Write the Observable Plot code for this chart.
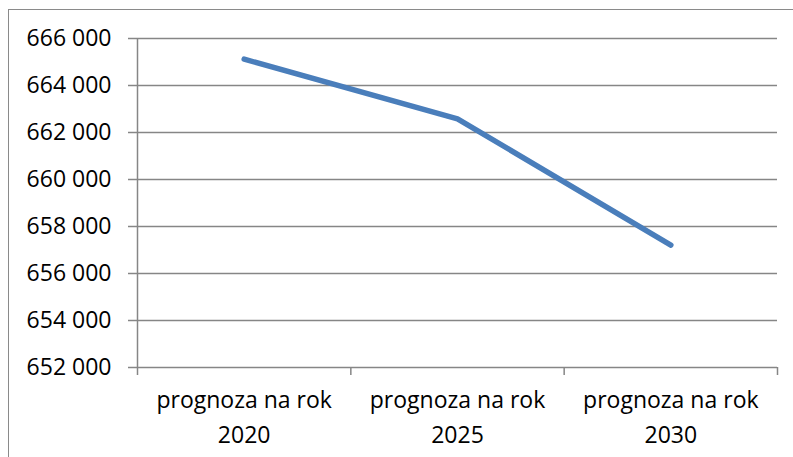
<!DOCTYPE html>
<html>
<head>
<meta charset="utf-8">
<script src="https://cdn.jsdelivr.net/npm/d3@7"></script>
<script src="https://cdn.jsdelivr.net/npm/@observablehq/plot@0.6"></script>
<style>
  html, body { margin: 0; padding: 0; background: #fff; overflow: hidden; width: 793px; height: 457px; }
  #wrap { position: relative; width: 793px; height: 457px; }
  #frame { position: absolute; left: 7.5px; top: 9px; width: 900px; height: 600px; border: 1.5px solid #8a8a8a; pointer-events: none; }
  #chart { position: absolute; left: 0; top: 0; }
</style>
</head>
<body>
<div id="wrap"><div id="chart"></div><div id="frame"></div></div>
<script>
const categories = ["prognoza na rok 2020", "prognoza na rok 2025", "prognoza na rok 2030"];
const values = [665120, 662580, 657210];
const yTicks = [652000, 654000, 656000, 658000, 660000, 662000, 664000, 666000];

const data = categories.map((c, i) => ({category: c, index: i + 0.5, value: values[i]}));
const fmt = v => d3.format(",")(v).replace(/,/g, " ");
const wrapLabel = c => c.replace(/ (\S+)$/, "\n$1");

const plot = Plot.plot({
  width: 793,
  height: 457,
  marginLeft: 137,
  marginRight: 16,
  marginTop: 38,
  marginBottom: 90,
  style: {fontFamily: "'Open Sans', sans-serif", fontSize: "23px", color: "#000", background: "transparent"},
  x: {type: "linear", domain: [0, categories.length], axis: null, label: null},
  y: {domain: [652000, 666000], axis: null, label: null},
  marks: [
    Plot.gridY(yTicks, {stroke: "#868686", strokeOpacity: 1, strokeWidth: 1.5}),
    Plot.ruleX([0], {stroke: "#868686", strokeWidth: 1.5}),
    Plot.axisY(yTicks, {label: null, tickSize: 9, tickPadding: 17, tickFormat: fmt, stroke: "#868686", strokeWidth: 1.5, fill: "#000", fontSize: 23}),
    Plot.axisX(d3.range(0, categories.length + 1), {label: null, tickSize: 8, tickFormat: () => "", stroke: "#868686", strokeWidth: 1.5}),
    Plot.axisX(data.map(d => d.index), {label: null, tickSize: 0, tickPadding: 15, lineHeight: 1.55, fontSize: 23, fill: "#000",
      tickFormat: (d, i) => wrapLabel(categories[i])}),
    Plot.line(data, {x: "index", y: "value", stroke: "#4A7EBB", strokeWidth: 5.5, strokeLinecap: "round", strokeLinejoin: "round"})
  ]
});
document.getElementById("chart").appendChild(plot);
</script>
</body>
</html>
